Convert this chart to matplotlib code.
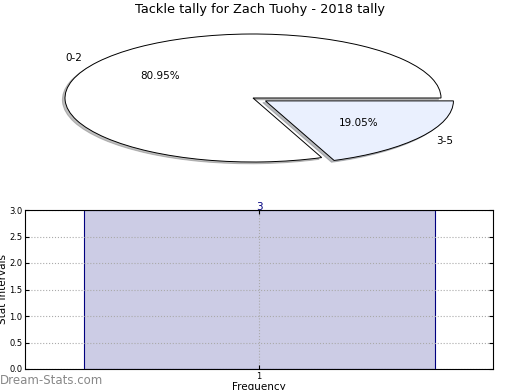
import matplotlib
matplotlib.use('Agg')
import matplotlib.pyplot as plt

# pie data
pie_labels = ['0-2', '3-5']
pie_counts = [17, 4]
pie_colors = ['white', '#eaf0fe']
pie_explode = [0, 0.08]

# bar data
bar_x = [1]
bar_vals = [3]

fig = plt.figure(figsize=(5.2, 3.9), dpi=100)
fig.patch.set_facecolor('white')

fig.text(0.5, 1 - 10 / 390, 'Tackle tally for Zach Tuohy - 2018 tally',
         ha='center', va='center', fontsize=9.3)

# top: squashed pie
ax1 = fig.add_axes([18 / 520, 1 - 178 / 390, 470 / 520, 160 / 390])
wedges, texts, autotexts = ax1.pie(
    pie_counts, labels=pie_labels, colors=pie_colors, explode=pie_explode,
    autopct='%1.2f%%', shadow={'ox': -0.01, 'oy': -0.02, 'shade': 0.5},
    startangle=0,
    wedgeprops={'edgecolor': 'black', 'linewidth': 0.7},
    textprops={'fontsize': 7.5})
ax1.set_aspect('auto')
ax1.set_xlim(-1.25, 1.25)
ax1.set_ylim(-1.25, 1.25)

# bottom: bar
ax2 = fig.add_axes([25 / 520, 21 / 390, 468 / 520, 159 / 390])
bars = ax2.bar(bar_x, bar_vals, width=0.75, color='navy', alpha=0.2,
               edgecolor='none')
ax2.bar(bar_x, bar_vals, width=0.75, facecolor='none', edgecolor='navy',
        linewidth=0.8)
for b, v in zip(bars, bar_vals):
    ax2.text(b.get_x() + b.get_width() / 2, v, f'{v}', ha='center',
             va='baseline', color='navy', fontsize=7.5)
ax2.set_xlim(0.5, 1.5)
ax2.set_ylim(0, 3)
ax2.set_xticks(bar_x)
ax2.set_yticks([0, 0.5, 1, 1.5, 2, 2.5, 3])
ax2.set_yticklabels(['0.0', '0.5', '1.0', '1.5', '2.0', '2.5', '3.0'])
ax2.tick_params(labelsize=6, direction='in', top=True, right=True, length=3,
                pad=2)
ax2.grid(True, linestyle=':', color='#aaaaaa', linewidth=0.8)
ax2.set_axisbelow(False)
for sp in ax2.spines.values():
    sp.set_zorder(5)
ax2.set_ylabel('Stat intervals', fontsize=7.5, labelpad=1)
ax2.set_xlabel('Frequency', fontsize=7.5, labelpad=1)

fig.text(0, 10 / 390, 'Dream-Stats.com', fontsize=8.5, color='#888888',
         ha='left', va='center')

fig.savefig('out.png', dpi=100, facecolor='white')
